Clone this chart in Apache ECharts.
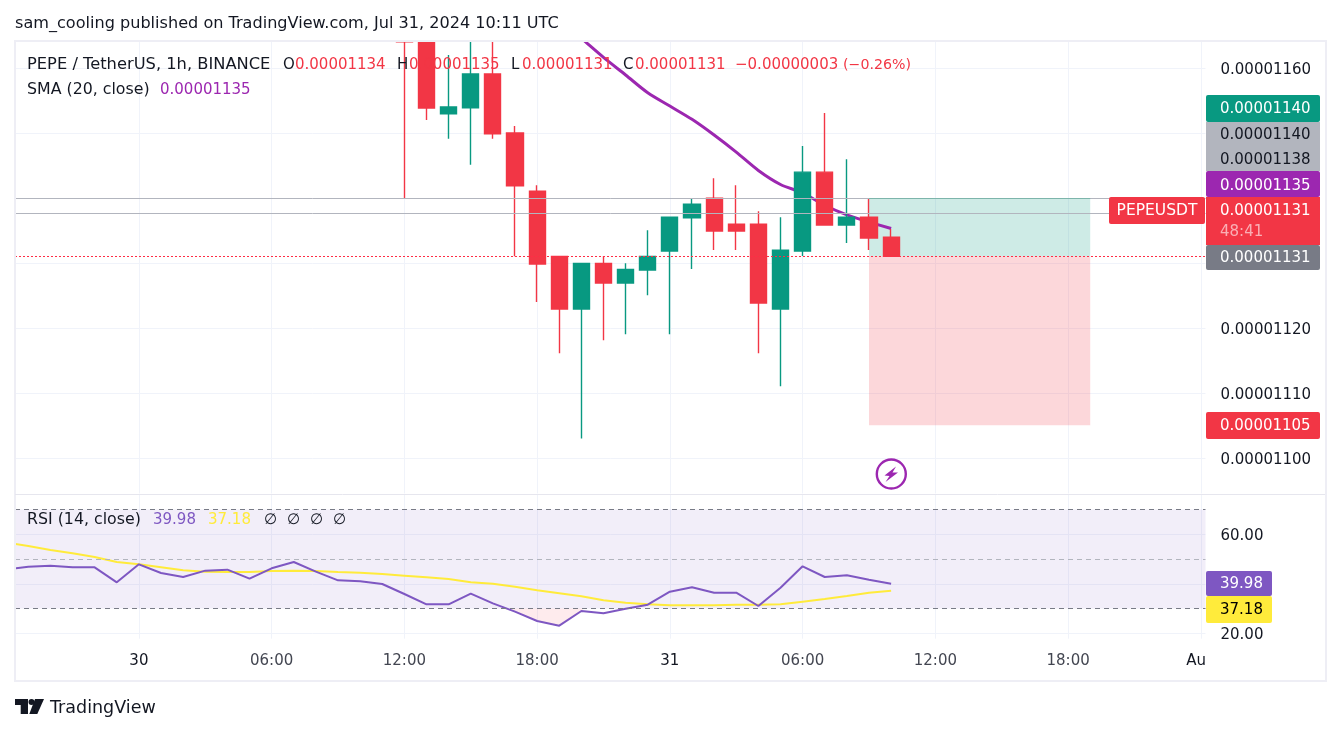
<!DOCTYPE html>
<html>
<head>
<meta charset="utf-8">
<title>PEPEUSDT 1h</title>
<script src="https://cdn.jsdelivr.net/npm/echarts@6/dist/echarts.min.js"></script>
<style>
  html, body { margin: 0; padding: 0; background: #fff; }
  #chart { width: 1341px; height: 734px; }
</style>
</head>
<body>
<div id="chart"></div>
<script>
// prices are in units of 0.00000001, x values are hours since Jul 30 00:00
const candleHours = [12, 13, 14, 15, 16, 17, 18, 19, 20, 21, 22, 23, 24, 25, 26, 27, 28, 29, 30, 31, 32, 33, 34]
const opens  = [1171, 1164.06, 1152.99, 1153.92, 1159.12, 1150.02, 1141.06, 1131.03, 1122.9, 1129.95, 1126.91, 1128.92, 1131.85, 1136.95, 1139.98, 1135.97, 1135.97, 1122.9, 1131.85, 1144, 1135.86, 1137.05, 1133.97]
const closes = [1164.06, 1153.87, 1154.03, 1159.12, 1149.91, 1141.88, 1129.85, 1122.9, 1129.95, 1126.91, 1129.03, 1131.03, 1137.05, 1139.06, 1134.94, 1134.94, 1123.83, 1131.96, 1144, 1135.86, 1137.05, 1133.86, 1131.03]
const lows   = [1139.98, 1152.02, 1149.14, 1145.12, 1149.14, 1131.03, 1123.98, 1116.11, 1102.99, 1118.12, 1119.04, 1125.02, 1119.04, 1129.07, 1132.01, 1132.01, 1116.11, 1111.02, 1131.08, 1135.86, 1133.09, 1132.01, 1131.03]
const highs  = [1172, 1165, 1162.05, 1165.5, 1165, 1151.1, 1141.99, 1131.03, 1129.95, 1131.03, 1129.95, 1135.05, 1137.05, 1139.98, 1143.07, 1141.99, 1137.98, 1137.05, 1148.01, 1153.1, 1146, 1139.98, 1135.25]

const smaHours = [19, 20, 21, 22, 23, 24, 25, 26, 27, 28, 29, 30, 31, 32, 33, 34]
const smaValues = [1167.45, 1164.6, 1161.67, 1158.97, 1156.23, 1154.18, 1152.13, 1149.71, 1147.08, 1144.26, 1142.1, 1140.8, 1138.9, 1137.41, 1136.33, 1135.31]

const rsiHours = [-6, -5, -4, -3, -2, -1, 0, 1, 2, 3, 4, 5, 6, 7, 8, 9, 10, 11, 12, 13, 14, 15, 16, 17, 18, 19, 20, 21, 22, 23, 24, 25, 26, 27, 28, 29, 30, 31, 32, 33, 34]
const rsiValues = [45.71, 46.92, 47.33, 46.65, 46.65, 40.59, 47.87, 44.37, 42.75, 45.31, 45.71, 42.08, 46.25, 48.81, 44.9, 41.4, 41, 39.92, 35.88, 31.7, 31.7, 36.01, 32.11, 28.74, 24.97, 23.09, 29.01, 28.07, 29.95, 31.57, 36.82, 38.57, 36.42, 36.42, 31.03, 38.44, 47.06, 42.75, 43.42, 41.67, 39.98]
const rsiMaValues = [56.62, 55.27, 53.66, 52.31, 50.83, 48.81, 47.87, 46.65, 45.44, 44.9, 44.77, 44.77, 45.17, 45.31, 45.17, 44.77, 44.5, 43.96, 43.29, 42.61, 41.94, 40.59, 40.05, 38.84, 37.36, 36.15, 34.94, 33.32, 32.38, 31.7, 31.3, 31.3, 31.3, 31.57, 31.57, 31.7, 32.78, 33.86, 35.07, 36.42, 37.18]
const oversoldHours = [16.8, 17, 18, 19, 20, 20.1]
const oversoldValues = [30, 28.74, 24.97, 23.09, 29.01, 30]

const priceGridTicks = [1100, 1110, 1120, 1130, 1140, 1150, 1160]
const priceLabelTicks = [1100, 1110, 1120, 1160]
const rsiGridTicks = [20, 40, 60]
const rsiLabelTicks = [20, 60]
const timeTicks = [0, 6, 12, 18, 24, 30, 36, 42, 48]
const timeLabels = ['30', '06:00', '12:00', '18:00', '31', '06:00', '12:00', '18:00', 'Aug']

const targetPrice = 1140
const entryPrice = 1131
const stopPrice = 1105
const boxStart = 33
const boxEnd = 43
const extraLevel = 1137.67
const lastPrice = 1131
const xMin = -5.6
const xMax = 48.21

const UP = '#089981'
const DOWN = '#F23645'
const PURPLE = '#9C27B0'
const RSI_PURPLE = '#7E57C2'
const YELLOW = '#FFEB3B'
const INK = '#131722'
const SOFT_INK = '#434651'
const GRID = '#F0F3FA'
const FONT = 'DejaVu Sans'

const zip = (xs, ys) => xs.map((x, i) => [x, ys[i]])

function text(x, y, str, fill, size, align) {
  return {
    type: 'text', x, y: y + 1, z: 100, silent: true,
    style: { text: str, fill: fill || INK, font: (size || 15) + 'px "' + FONT + '"', textAlign: align || 'left', textVerticalAlign: 'middle' }
  }
}
function box(x, y, w, h, fill, r, z) {
  return { type: 'rect', z: z || 99, silent: true, shape: { x, y, width: w, height: h, r: r || 0 }, style: { fill } }
}
function poly(points, fill) {
  return { type: 'polygon', z: 100, silent: true, shape: { points }, style: { fill } }
}

const chart = echarts.init(document.getElementById('chart'), null, { renderer: 'canvas' })

const graphics = [
  // candles are not cut at the pane top by the library, so mask above it
  box(0, 0, 1341, 41, '#fff', 0, 90),
  // outer frame and pane divider
  { type: 'rect', z: 98, silent: true, shape: { x: 15, y: 41, width: 1311, height: 640 }, style: { fill: 'none', stroke: '#EEEEF5', lineWidth: 2 } },
  { type: 'line', z: 98, silent: true, shape: { x1: 15, y1: 494.5, x2: 1325, y2: 494.5 }, style: { stroke: '#E6E6EE', lineWidth: 1 } },
  // the 20.00 label is cut by the time axis strip
  box(1206, 639, 118, 41, '#fff'),

  text(15, 23, 'sam_cooling published on TradingView.com, Jul 31, 2024 10:11 UTC', INK, 16.1),
  text(27, 64, 'PEPE / TetherUS, 1h, BINANCE', INK, 16.3),
  text(283, 64, 'O'), text(295, 64, '0.00001134', DOWN),
  text(397, 64, 'H'), text(409, 64, '0.00001135', DOWN),
  text(511, 64, 'L'), text(522, 64, '0.00001131', DOWN),
  text(623, 64, 'C'), text(635, 64, '0.00001131', DOWN),
  text(735, 64, '\u22120.00000003', DOWN),
  text(843, 64, '(\u22120.26%)', DOWN, 14.2),
  text(27, 89, 'SMA (20, close)', INK, 15.8), text(160, 89, '0.00001135', PURPLE),

  text(27, 519, 'RSI (14, close)', INK, 15.8), text(153, 519, '39.98', RSI_PURPLE), text(208, 519, '37.18', YELLOW),
  text(264, 519, '\u2205'), text(287, 519, '\u2205'), text(310, 519, '\u2205'), text(333, 519, '\u2205'),

  // price tags on the right scale
  box(1206, 95, 114, 27, UP, 2), text(1220, 108, '0.00001140', '#fff'),
  box(1206, 122, 114, 49, '#B2B5BE'), text(1220, 134, '0.00001140'), text(1220, 159, '0.00001138'),
  box(1206, 171, 114, 26, PURPLE, 2), text(1220, 185, '0.00001135', '#fff'),
  box(1206, 197, 114, 48, DOWN), text(1220, 210, '0.00001131', '#fff'), text(1220, 231, '48:41', 'rgba(255,255,255,0.6)'),
  box(1206, 245, 114, 25, '#787B86', 2), text(1220, 257, '0.00001131', '#fff'),
  box(1109, 197, 96, 27, DOWN, 2), text(1157, 210, 'PEPEUSDT', '#fff', 15.5, 'center'),
  box(1206, 412, 114, 27, DOWN, 2), text(1220, 425, '0.00001105', '#fff'),
  box(1206, 571, 66, 25, RSI_PURPLE, 2), text(1220, 583, '39.98', '#fff'),
  box(1206, 596, 66, 27, YELLOW, 2), text(1220, 609, '37.18', '#000'),

  // flash icon
  { type: 'circle', z: 100, silent: true, shape: { cx: 891.3, cy: 474, r: 14.5 }, style: { fill: '#fff', stroke: PURPLE, lineWidth: 2.4 } },
  poly([[896, 466.5], [884.5, 475.5], [889.5, 476], [885.5, 482], [898, 472.5], [892.5, 472.5]], PURPLE),

  // logo
  poly([[15, 699], [28, 699], [28, 714], [20.7, 714], [20.7, 705], [15, 705]], INK),
  { type: 'circle', z: 100, silent: true, shape: { cx: 31.5, cy: 702, r: 3 }, style: { fill: INK } },
  poly([[35, 699], [44, 699], [37.3, 714], [29.3, 714]], INK),
  text(50, 707, 'TradingView', INK, 17.5)
]

const option = {
  animation: false,
  backgroundColor: '#fff',
  textStyle: { fontFamily: FONT },
  graphic: graphics,
  grid: [
    { left: 15, width: 1190.5, top: 41, height: 452.5 },
    { left: 15, width: 1190.5, top: 495, height: 143.7 }
  ],
  xAxis: [
    {
      type: 'value', gridIndex: 0, min: xMin, max: xMax,
      axisLine: { show: false }, axisLabel: { show: false },
      axisTick: { show: false, customValues: timeTicks },
      splitLine: { show: true, lineStyle: { color: GRID, width: 1 } }
    },
    {
      type: 'value', gridIndex: 1, min: xMin, max: xMax,
      axisLine: { show: false },
      axisTick: { show: false, customValues: timeTicks },
      splitLine: { show: true, lineStyle: { color: GRID, width: 1 } },
      axisLabel: {
        customValues: timeTicks, margin: 15, fontSize: 15, fontFamily: FONT, color: SOFT_INK, hideOverlap: false,
        formatter: v => {
          const label = timeLabels[timeTicks.indexOf(v)]
          return label.includes(':') ? label : '{day|' + label + '}'
        },
        rich: { day: { color: INK, fontSize: 15, fontFamily: FONT } }
      }
    }
  ],
  yAxis: [
    {
      type: 'value', gridIndex: 0, position: 'right', min: 1094.5, max: 1164.2, scale: true,
      axisLine: { show: false },
      axisTick: { show: false, customValues: priceGridTicks },
      splitLine: { show: true, lineStyle: { color: GRID, width: 1 } },
      axisLabel: {
        customValues: priceLabelTicks, margin: 15, fontSize: 15, fontFamily: FONT, color: INK,
        formatter: v => '{v|' + (v / 1e8).toFixed(8) + '}',
        rich: { v: { padding: [4, 0, 0, 0], color: INK, fontSize: 15, fontFamily: FONT } }
      }
    },
    {
      type: 'value', gridIndex: 1, position: 'right', min: 17.82, max: 75.88, scale: true,
      axisLine: { show: false },
      axisTick: { show: false, customValues: rsiGridTicks },
      splitLine: { show: true, lineStyle: { color: GRID, width: 1 } },
      axisLabel: {
        customValues: rsiLabelTicks, margin: 15, fontSize: 15, fontFamily: FONT, color: INK,
        formatter: v => '{v|' + v.toFixed(2) + '}',
        rich: { v: { padding: [4, 0, 0, 0], color: INK, fontSize: 15, fontFamily: FONT } }
      }
    }
  ],
  series: [
    {
      // long position box and the horizontal levels
      name: 'levels', type: 'line', xAxisIndex: 0, yAxisIndex: 0, data: [], silent: true, z: 1,
      markArea: {
        silent: true,
        data: [
          [{ coord: [boxStart, targetPrice], itemStyle: { color: 'rgba(8,153,129,0.2)' } }, { coord: [boxEnd, entryPrice] }],
          [{ coord: [boxStart, entryPrice], itemStyle: { color: 'rgba(242,54,69,0.2)' } }, { coord: [boxEnd, stopPrice] }]
        ]
      },
      markLine: {
        silent: true, symbol: 'none', label: { show: false },
        data: [
          { yAxis: targetPrice, lineStyle: { color: '#B2B5BE', width: 1, type: 'solid' } },
          { yAxis: extraLevel, lineStyle: { color: '#B2B5BE', width: 1, type: 'solid' } },
          { yAxis: lastPrice, lineStyle: { color: '#FF2D45', width: 1.2, type: [2, 2] } },
          [
            { coord: [boxStart, targetPrice], lineStyle: { color: '#7DB5AB', width: 1, type: 'solid' } },
            { coord: [boxEnd, targetPrice] }
          ]
        ]
      }
    },
    {
      name: 'PEPEUSDT', type: 'candlestick', xAxisIndex: 0, yAxisIndex: 0, z: 3, barWidth: 16.6,
      encode: { x: 0, y: [1, 2, 3, 4] },
      itemStyle: { color: UP, color0: DOWN, borderColor: UP, borderColor0: DOWN, borderWidth: 1.4 },
      data: candleHours.map((h, i) => [h, opens[i], closes[i], lows[i], highs[i]])
    },
    {
      name: 'SMA', type: 'line', xAxisIndex: 0, yAxisIndex: 0, z: 2, showSymbol: false, symbol: 'none', smooth: 0.3,
      lineStyle: { color: PURPLE, width: 3 },
      data: zip(smaHours, smaValues)
    },
    {
      // RSI band and its dashed levels
      name: 'band', type: 'line', xAxisIndex: 1, yAxisIndex: 1, data: [], silent: true, z: 1,
      markArea: {
        silent: true,
        itemStyle: { color: 'rgba(126,87,194,0.1)' },
        data: [[{ xAxis: xMin, yAxis: 70 }, { xAxis: xMax, yAxis: 30 }]]
      },
      markLine: {
        silent: true, symbol: 'none', label: { show: false },
        data: [
          { yAxis: 70, lineStyle: { color: '#787B86', width: 1, type: [5, 4] } },
          { yAxis: 50, lineStyle: { color: '#B2B5BE', width: 1, type: [5, 4] } },
          { yAxis: 30, lineStyle: { color: '#787B86', width: 1, type: [5, 4] } }
        ]
      }
    },
    {
      name: 'oversold', type: 'line', xAxisIndex: 1, yAxisIndex: 1, z: 2, symbol: 'none', silent: true,
      lineStyle: { width: 0 },
      areaStyle: { origin: 30, color: 'rgba(242,54,69,0.14)' },
      data: zip(oversoldHours, oversoldValues)
    },
    {
      name: 'RSI MA', type: 'line', xAxisIndex: 1, yAxisIndex: 1, z: 3, symbol: 'none',
      lineStyle: { color: YELLOW, width: 2 },
      data: zip(rsiHours, rsiMaValues)
    },
    {
      name: 'RSI', type: 'line', xAxisIndex: 1, yAxisIndex: 1, z: 4, symbol: 'none',
      lineStyle: { color: RSI_PURPLE, width: 2 },
      data: zip(rsiHours, rsiValues)
    }
  ]
}

chart.setOption(option)
</script>
</body>
</html>
